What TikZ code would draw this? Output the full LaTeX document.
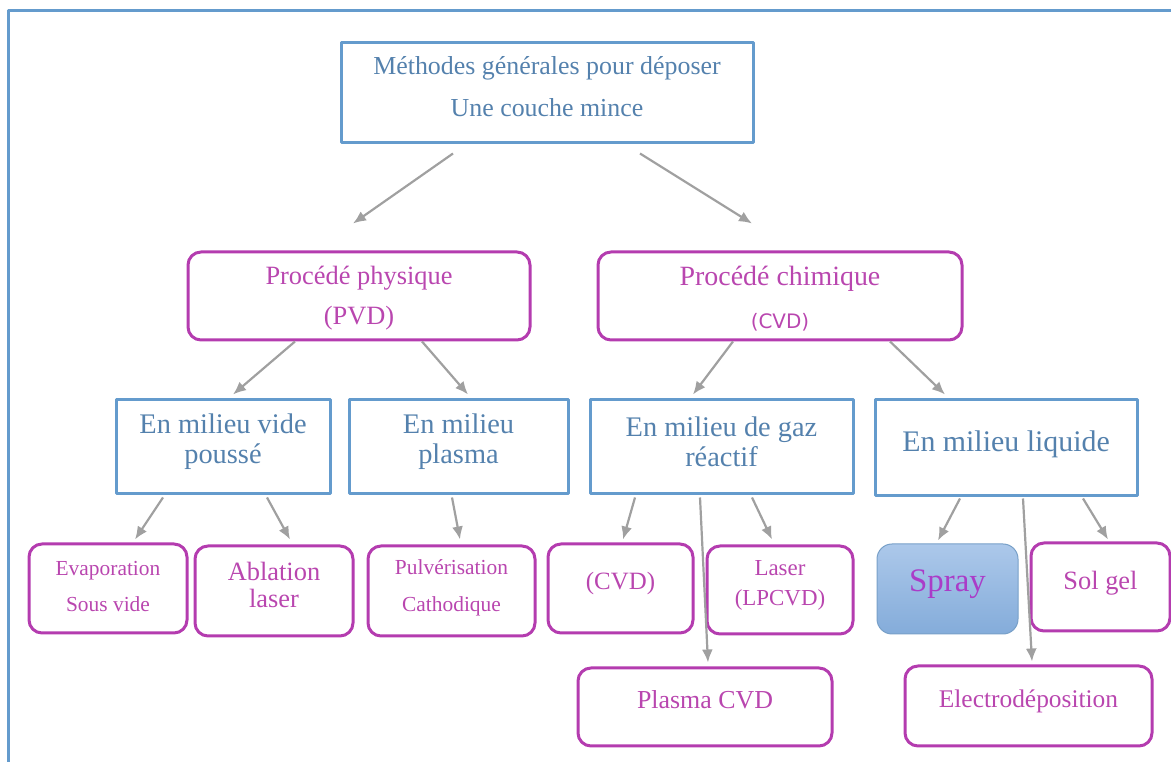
\documentclass[tikz,border=0pt]{standalone}
\usepackage{fontspec}
\setmainfont{Liberation Serif}
\newfontfamily\cvdsans{DejaVu Sans}
\usetikzlibrary{arrows.meta}

\definecolor{bluetxt}{RGB}{84,129,173}
\definecolor{blueline}{RGB}{100,155,205}
\definecolor{magline}{RGB}{180,60,175}
\definecolor{magtxt}{RGB}{185,70,175}
\definecolor{arrowgrey}{RGB}{160,160,160}
\definecolor{spraytop}{RGB}{172,200,234}
\definecolor{spraybot}{RGB}{132,172,218}
\definecolor{sprayline}{RGB}{120,160,200}
\definecolor{spraytxt}{RGB}{170,60,200}

\tikzset{
  fs/.style 2 args={font=\fontsize{#1}{#2}\selectfont},
  boxsize/.style 2 args={minimum width=#1, minimum height=#2},
  bluebox/.style={draw=blueline, line width=3bp, rectangle, inner sep=0pt},
  magbox/.style={draw=magline, line width=3bp, rectangle, rounded corners=13bp, inner sep=0pt},
  spraybox/.style={draw=sprayline, line width=1bp, rectangle, rounded corners=15bp, inner sep=0pt,
    top color=spraytop, bottom color=spraybot},
  bluetext/.style={text=bluetxt, align=center, inner sep=0pt},
  magtext/.style={text=magtxt, align=center, inner sep=0pt},
  conn/.style={draw=arrowgrey, line width=2.2bp, -{Latex[length=13bp,width=11bp]}},
}

\begin{document}
\begin{tikzpicture}[line join=bevel]
\useasboundingbox (0bp,0bp) rectangle (1171bp,762bp);
%% frame
\draw [blueline, line width=3bp] (8bp,-10bp) -- (8bp,751bp) -- (1180bp,751bp);
%% boxes
\node (node_top) at (547bp,669bp) [bluebox, boxsize={412bp}{100bp},
  label={[bluetext, fs={26}{42}, yshift=6bp]center:Méthodes générales pour déposer\\Une couche mince}] {};
  \node (node_pvd) at (359bp,466bp) [magbox, boxsize={342bp}{88bp},
  label={[magtext, fs={26.5}{40}, yshift=-2bp]center:Procédé physique\\(PVD)}] {};
  \node (node_cvd) at (780bp,466bp) [magbox, boxsize={364bp}{88bp},
  label={[magtext, fs={28}{43}, yshift=-3bp]center:Procédé chimique\\{\cvdsans\fontsize{20}{24}\selectfont (CVD)}}] {};
  \node (node_vide) at (223bp,315bp) [bluebox, boxsize={214bp}{94bp},
  label={[bluetext, fs={28.5}{30}, yshift=5bp]center:En milieu vide\\poussé}] {};
  \node (node_plasma) at (458.5bp,315bp) [bluebox, boxsize={219bp}{94bp},
  label={[bluetext, fs={28.5}{30}, yshift=5bp]center:En milieu\\plasma}] {};
  \node (node_gaz) at (721.5bp,315bp) [bluebox, boxsize={263bp}{94bp},
  label={[bluetext, fs={28.5}{30}, yshift=5bp]center:En milieu de gaz\\réactif}] {};
  \node (node_liquide) at (1006bp,314bp) [bluebox, boxsize={262bp}{96bp},
  label={[bluetext, fs={30}{36}, yshift=4bp]center:En milieu liquide}] {};
  \node (node_evap) at (108bp,173.5bp) [magbox, boxsize={158bp}{89bp},
  label={[magtext, fs={21.5}{36}, yshift=2bp]center:Evaporation\\Sous vide}] {};
  \node (node_ablation) at (274bp,171bp) [magbox, boxsize={158bp}{90bp},
  label={[magtext, fs={26.5}{27}, yshift=6bp]center:Ablation\\laser}] {};
  \node (node_pulv) at (451.5bp,171bp) [magbox, boxsize={167bp}{90bp},
  label={[magtext, fs={21.5}{37}, yshift=3bp]center:Pulvérisation\\Cathodique}] {};
  \node (node_cvdm) at (620.5bp,173.5bp) [magbox, boxsize={145bp}{89bp},
  label={[magtext, fs={25}{30}, yshift=4.5bp]center:(CVD)}] {};
  \node (node_laser) at (780bp,172bp) [magbox, boxsize={146bp}{88bp},
  label={[magtext, fs={23}{30}, yshift=5bp]center:Laser\\(LPCVD)}] {};
  \node (node_spray) at (947.5bp,173bp) [spraybox, boxsize={141bp}{90bp},
  label={[text=spraytxt, inner sep=0pt, fs={33}{40}, yshift=4.5bp]center:Spray}] {};
  \node (node_solgel) at (1100.5bp,175bp) [magbox, boxsize={139bp}{88bp},
  label={[magtext, fs={26.5}{32}, yshift=4bp]center:Sol gel}] {};
  \node (node_pcvd) at (705bp,55bp) [magbox, boxsize={254bp}{78bp},
  label={[magtext, fs={26}{32}, yshift=7bp]center:Plasma CVD}] {};
  \node (node_electro) at (1028.5bp,56bp) [magbox, boxsize={247bp}{80bp},
  label={[magtext, fs={25.5}{32}, yshift=5bp]center:Electrodéposition}] {};
%% arrows
  \draw [conn] ([xshift=-94bp,yshift=-9bp]node_top.south) -- ([xshift=-6bp,yshift=27bp]node_pvd.north);
  \draw [conn] ([xshift=93bp,yshift=-9bp]node_top.south) -- ([xshift=-28bp,yshift=27bp]node_cvd.north);
  \draw [conn] ([xshift=-64bp]node_pvd.south) -- ([xshift=10bp,yshift=4bp]node_vide.north);
  \draw [conn] ([xshift=63bp]node_pvd.south) -- ([xshift=9.5bp,yshift=4bp]node_plasma.north);
  \draw [conn] ([xshift=-47bp]node_cvd.south) -- ([xshift=-28.5bp,yshift=4bp]node_gaz.north);
  \draw [conn] ([xshift=110bp]node_cvd.south) -- ([xshift=-61bp,yshift=4bp]node_liquide.north);
  \draw [conn] ([xshift=-60bp,yshift=-2bp]node_vide.south) -- ([xshift=27bp,yshift=3bp]node_evap.north);
  \draw [conn] ([xshift=44bp,yshift=-2bp]node_vide.south) -- ([xshift=16bp,yshift=5bp]node_ablation.north);
  \draw [conn] ([xshift=-6.5bp,yshift=-2bp]node_plasma.south) -- ([xshift=8.5bp,yshift=5bp]node_pulv.north);
  \draw [conn] ([xshift=-86.5bp,yshift=-2bp]node_gaz.south) -- ([xshift=2.5bp,yshift=3bp]node_cvdm.north);
  \draw [conn] ([xshift=-21.5bp,yshift=-2bp]node_gaz.south) -- ([xshift=3bp,yshift=4bp]node_pcvd.north);
  \draw [conn] ([xshift=30.5bp,yshift=-2bp]node_gaz.south) -- ([xshift=-8bp,yshift=5bp]node_laser.north);
  \draw [conn] ([xshift=-46bp,yshift=-1bp]node_liquide.south) -- ([xshift=-9.5bp,yshift=3bp]node_spray.north);
  \draw [conn] ([xshift=17bp,yshift=-1bp]node_liquide.south) -- ([xshift=3.5bp,yshift=3bp]node_electro.north);
  \draw [conn] ([xshift=77bp,yshift=-1bp]node_liquide.south) -- ([xshift=7.5bp,yshift=2bp]node_solgel.north);
%
\end{tikzpicture}
\end{document}
